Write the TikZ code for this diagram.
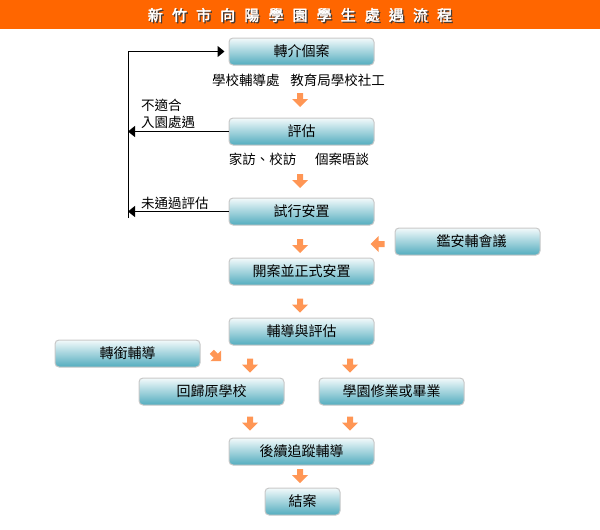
\documentclass[tikz,border=0pt]{standalone}
\usepackage{fontspec}
\setmainfont{Noto Sans CJK TC}
\newfontfamily\titlefont[FakeBold=2.5]{Noto Sans CJK TC}
\usetikzlibrary{arrows.meta}
\definecolor{hdr}{RGB}{255,102,0}
\definecolor{arr}{RGB}{255,150,85}
\definecolor{btop}{RGB}{243,250,251}
\definecolor{bmid}{RGB}{182,223,231}
\definecolor{bbot}{RGB}{82,172,190}
\definecolor{bedge}{RGB}{200,200,200}
\definecolor{tshad}{RGB}{70,60,55}
\newcommand{\tsp}{\hspace{9.1pt}}
\begin{document}
\begin{tikzpicture}[x=1pt,y=1pt,
  flowbox/.style={rounded corners=4pt, draw=bedge, line width=1pt,
    top color=btop, middle color=bmid, bottom color=bbot,
    minimum width=145pt, minimum height=27pt, inner sep=0pt,
    font=\fontsize{14}{16}\selectfont},
  lbl/.style={font=\fontsize{13.5}{16}\selectfont, inner sep=0pt},
  fb/.style={line width=1pt, draw=black},
  tip/.style={-{Triangle[length=7pt,width=11pt]}},
  ttl/.style={font=\titlefont\fontsize{15}{17}\selectfont, inner sep=0pt},
  darr/.pic={\fill[arr] (-3,7) -- (3,7) -- (3,1) -- (8,1) -- (0,-7) -- (-8,1) -- (-3,1) -- cycle;}
]
\useasboundingbox (0,0) rectangle (600,-530);
\fill[hdr] (0,0) rectangle (600,-29);
\node[ttl, text=tshad] (tshadow) at (301.3,-16.3)
  {新\tsp 竹\tsp 市\tsp 向\tsp 陽\tsp 學\tsp 園\tsp 學\tsp 生\tsp 處\tsp 遇\tsp 流\tsp 程};
\node[ttl, text=white] (title) at (300,-15)
  {新\tsp 竹\tsp 市\tsp 向\tsp 陽\tsp 學\tsp 園\tsp 學\tsp 生\tsp 處\tsp 遇\tsp 流\tsp 程};

% boxes
\node[flowbox] (n1) at (301.5,-51.5) {轉介個案};
\node[flowbox] (n2) at (301.5,-131.5) {評估};
\node[flowbox] (n3) at (301.5,-211.5) {試行安置};
\node[flowbox] (n4) at (467.5,-241.5) {\hspace{8pt}鑑安輔會議};
\node[flowbox] (n5) at (301.5,-271.5) {開案並正式安置};
\node[flowbox] (n6) at (301.5,-331.5) {輔導與評估};
\node[flowbox] (n7) at (127.5,-353.5) {轉銜輔導};
\node[flowbox] (n8) at (211.5,-391.5) {回歸原學校};
\node[flowbox] (n9) at (391.5,-391.5) {學園修業或畢業};
\node[flowbox] (n10) at (301.5,-451.5) {後續追蹤輔導};
\node[flowbox, minimum width=75pt] (n11) at (302.5,-501.5) {結案};

% sub labels
\node[lbl] (s1) at (298.5,-80) {學校輔導處\hspace{11pt}教育局學校社工};
\node[lbl] (s2) at (299,-159) {家訪、校訪\hspace{19pt}個案晤談};
\node[lbl, anchor=west] (s3) at (141,-105) {不適合};
\node[lbl, anchor=west] (s4) at (141,-122) {入園處遇};
\node[lbl, anchor=west] (s5) at (141,-203) {未通過評估};

% feedback lines
\coordinate (Lend) at (128,-218);
\draw[fb, tip, shorten >=4pt] (Lend) |- (n1.west);
\draw[fb, tip] (n2.west) -- (n2.west -| Lend);
\draw[fb, tip] (n3.west) -- (n3.west -| Lend);

% orange block arrows
\pic at (300,-100) {darr};
\pic at (300,-181) {darr};
\pic at (300,-246) {darr};
\pic[rotate=-90] at (377.5,-244) {darr};
\pic at (300,-305.5) {darr};
\pic[rotate=45, scale=0.95] at (216.5,-356.5) {darr};
\pic at (250,-365.5) {darr};
\pic at (350,-365.5) {darr};
\pic at (250,-423.5) {darr};
\pic at (350,-423.5) {darr};
\pic at (300,-476) {darr};
\end{tikzpicture}
\end{document}
